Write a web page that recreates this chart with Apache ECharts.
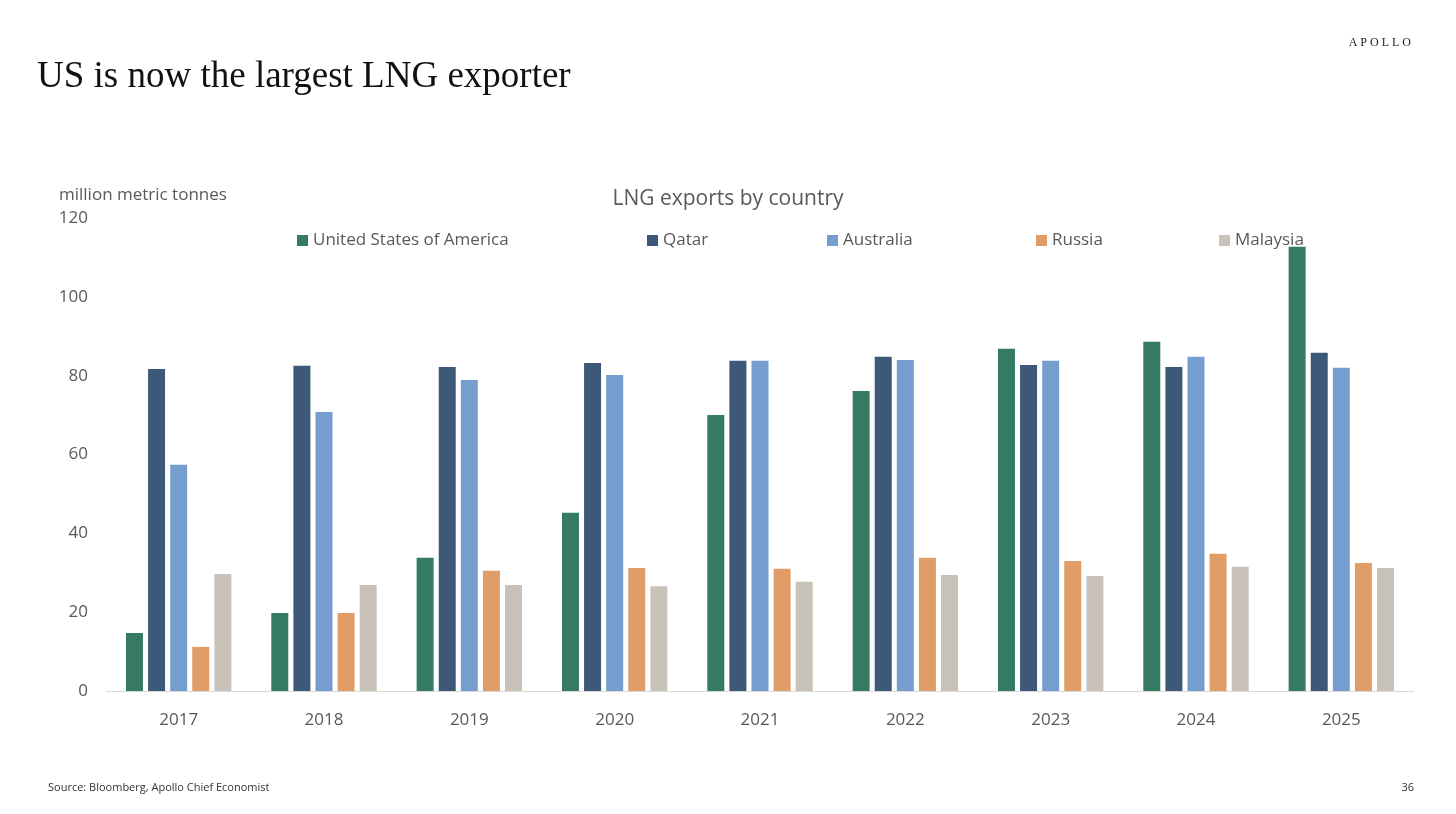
<!DOCTYPE html>
<html><head><meta charset="utf-8">
<script src="https://cdn.jsdelivr.net/npm/echarts@6/dist/echarts.min.js"></script>
<style>html,body{margin:0;padding:0;background:#fff}#c{width:1456px;height:814px}</style>
</head><body><div id="c"></div>
<script>
const years = ['2017','2018','2019','2020','2021','2022','2023','2024','2025'];
const usa = [14.7,19.8,33.8,45.2,70.0,76.1,86.8,88.6,112.7];
const qatar = [81.7,82.5,82.2,83.2,83.8,84.8,82.7,82.2,85.8];
const australia = [57.4,70.8,78.9,80.2,83.8,84.0,83.8,84.8,82.0];
const russia = [11.2,19.8,30.5,31.2,31.0,33.8,33.0,34.8,32.5];
const malaysia = [29.7,26.9,26.9,26.6,27.7,29.4,29.2,31.5,31.2];
const names = ['United States of America','Qatar','Australia','Russia','Malaysia'];
const colors = ['#357a62','#3d5878','#759ecf','#e19d67','#c9c2b8'];
const legendX = [292,642,822,1031,1214];
const dataSets = [usa,qatar,australia,russia,malaysia];
const font = '"Open Sans", "Noto Sans", sans-serif';
const chart = echarts.init(document.getElementById('c'));
chart.setOption({
  animation:false,
  title:[
    {text:'US is now the largest LNG exporter',left:32,top:54,textStyle:{fontFamily:'"Liberation Serif", serif',fontWeight:'normal',fontSize:37,color:'#111'}},
    {text:'LNG exports by country',left:'center',top:184,textStyle:{fontFamily:font,fontWeight:'normal',fontSize:21,color:'#595959'}},
    {text:'A P O L L O',right:40,top:32,textStyle:{fontFamily:'"Liberation Serif", serif',fontWeight:'normal',fontSize:12,color:'#222'}},
    {text:'Source: Bloomberg, Apollo Chief Economist',left:43,top:777,textStyle:{fontFamily:font,fontWeight:'normal',fontSize:11,color:'#333'}},
    {text:'36',right:37,top:777,textStyle:{fontFamily:font,fontWeight:'normal',fontSize:11,color:'#333'}}
  ],
  legend: names.map((n,i)=>({data:[n],left:legendX[i],top:227,itemWidth:11,itemHeight:11,icon:'rect',textStyle:{fontFamily:font,fontSize:17,color:'#595959'}})),
  grid:{left:106,right:42,top:218,bottom:123},
  xAxis:{type:'category',data:years,axisTick:{show:false},axisLine:{lineStyle:{color:'#d9d9d9'}},axisLabel:{fontFamily:font,fontSize:17,color:'#595959',margin:21}},
  yAxis:{type:'value',min:0,max:120,interval:20,name:'million metric tonnes',nameLocation:'end',nameGap:14,nameTextStyle:{fontFamily:font,fontSize:17,color:'#595959',align:'left',padding:[0,0,0,-47]},splitLine:{show:false},axisLine:{show:false},axisTick:{show:false},axisLabel:{fontFamily:font,fontSize:17,color:'#595959',margin:18}},
  series: names.map((n,i)=>({name:n,type:'bar',data:dataSets[i],itemStyle:{color:colors[i]},barWidth:17,barGap:'30%',barCategoryGap:'26%'}))
});
</script></body></html>
